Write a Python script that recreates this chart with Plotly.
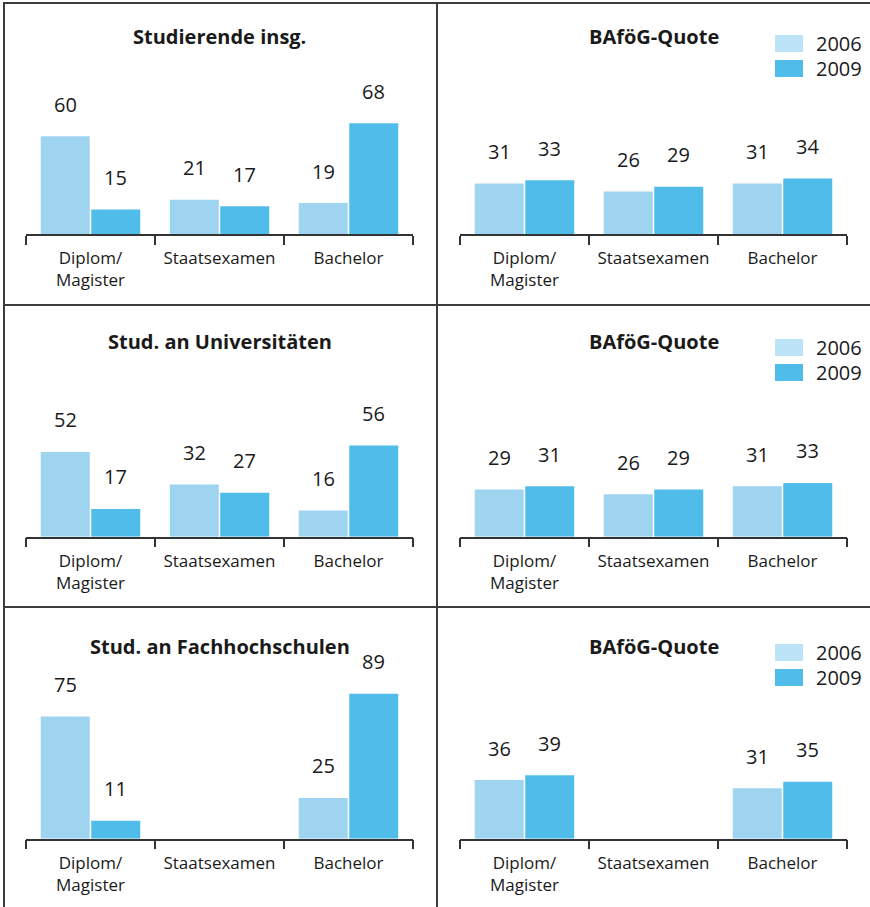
import plotly.graph_objects as go
from plotly.subplots import make_subplots

W, H = 870, 907

categories = ["Diplom/<br>Magister", "Staatsexamen", "Bachelor"]
years = ["2006", "2009"]

titles = ["Studierende insg.", "BAföG-Quote",
          "Stud. an Universitäten", "BAföG-Quote",
          "Stud. an Fachhochschulen", "BAföG-Quote"]

insg_2006 = [60, 21, 19]
insg_2009 = [15, 17, 68]
bafoeg_insg_2006 = [31, 26, 31]
bafoeg_insg_2009 = [33, 29, 34]

uni_2006 = [52, 32, 16]
uni_2009 = [17, 27, 56]
bafoeg_uni_2006 = [29, 26, 31]
bafoeg_uni_2009 = [31, 29, 33]

fh_2006 = [75, None, 25]
fh_2009 = [11, None, 89]
bafoeg_fh_2006 = [36, None, 31]
bafoeg_fh_2009 = [39, None, 35]

panels = [
    (insg_2006, insg_2009), (bafoeg_insg_2006, bafoeg_insg_2009),
    (uni_2006, uni_2009), (bafoeg_uni_2006, bafoeg_uni_2009),
    (fh_2006, fh_2009), (bafoeg_fh_2006, bafoeg_fh_2009),
]

bar_colors = ["#9fd4f1", "#50bcea"]
swatch_colors = ["#bde3f8", "#50bcea"]
FONT = "Open Sans"
TXT = "#1a1a1a"


def px(x):
    return x / W


def py(y):
    return 1 - y / H


fig = make_subplots(rows=3, cols=2)

col_x = [(26, 413), (460, 847)]
row_base = [234, 536.7, 838.7]
row_title = [37, 341, 646]
plot_h = 163  # pixels for 0..100

annotations = []
shapes = []

for i, (v06, v09) in enumerate(panels):
    r, c = i // 2, i % 2
    for vals, col in zip((v06, v09), bar_colors):
        fig.add_trace(go.Bar(x=categories, y=vals, marker_color=col,
                             marker_line_width=0, showlegend=False,
                             hoverinfo="skip"), row=r + 1, col=c + 1)
    n = i + 1
    xa = "x" if n == 1 else f"x{n}"
    ya = "y" if n == 1 else f"y{n}"
    x0, x1 = col_x[c]
    base = row_base[r]
    fig.layout[("xaxis" if n == 1 else f"xaxis{n}")].update(
        domain=[px(x0), px(x1)])
    fig.layout[("yaxis" if n == 1 else f"yaxis{n}")].update(
        domain=[py(base), py(base - plot_h)])

    for k, vals in enumerate((v06, v09)):
        for cat, v in zip(categories, vals):
            if v is None:
                continue
            annotations.append(dict(
                xref=xa, yref=ya, x=cat, y=v, text=str(v),
                xshift=(-25.3 if k == 0 else 25.3), yshift=32,
                yanchor="middle", showarrow=False,
                font=dict(family=FONT, size=20, color=TXT)))

    annotations.append(dict(
        xref="paper", yref="paper", x=px((x0 + x1) / 2), y=py(row_title[r]),
        text="<b>" + titles[i] + "</b>", showarrow=False,
        xanchor="center", yanchor="middle",
        font=dict(family=FONT, size=20, color=TXT)))

    if c == 1:
        t = row_title[r] + 1
        for k, yr in enumerate(years):
            top = t - 3 + k * 25
            shapes.append(dict(type="rect", xref="paper", yref="paper",
                               x0=px(775), x1=px(803), y0=py(top), y1=py(top + 17),
                               fillcolor=swatch_colors[k], line_width=0))
            annotations.append(dict(
                xref="paper", yref="paper", x=px(814), y=py(top + 8.5),
                text=yr, showarrow=False, xanchor="left", yanchor="middle",
                font=dict(family=FONT, size=20, color=TXT)))

fig.update_xaxes(type="category", showline=True, linecolor="#333",
                 linewidth=1.5, ticks="outside", tickson="boundaries",
                 ticklen=9, tickwidth=1.5, tickcolor="#333",
                 ticklabelstandoff=8,
                 showgrid=False, zeroline=False, fixedrange=True,
                 tickfont=dict(family=FONT, size=17, color=TXT))
fig.update_yaxes(visible=False, range=[0, 100], fixedrange=True)

# panel frame
line = dict(color="#3c3c3c", width=2)
for y in (3, 305, 607):
    shapes.append(dict(type="line", xref="paper", yref="paper",
                       x0=px(3), x1=1, y0=py(y), y1=py(y), line=line))
for x in (4, 437):
    shapes.append(dict(type="line", xref="paper", yref="paper",
                       x0=px(x), x1=px(x), y0=py(3), y1=0, line=line))

fig.update_layout(
    width=W, height=H,
    margin=dict(l=0, r=0, t=0, b=0),
    paper_bgcolor="white", plot_bgcolor="white",
    bargap=0.217, bargroupgap=0.03, barmode="group",
    annotations=annotations, shapes=shapes,
    hovermode=False,
)

fig.write_html("out.html", config={"displayModeBar": False},
               post_script="document.body.style.margin='0';"
                           "document.body.style.overflow='hidden';")
